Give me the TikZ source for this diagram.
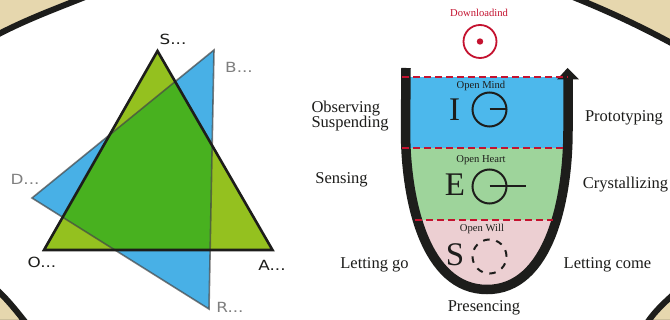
\documentclass[tikz,border=0pt]{standalone}
\usepackage{fontspec}
\setmainfont{Liberation Serif}
\newfontfamily\widefont{DejaVu Sans}
\definecolor{parch}{HTML}{E6D7AE}
\definecolor{inkb}{HTML}{1D1D1B}
\definecolor{tblue}{HTML}{48B0E6}
\definecolor{tgreen}{HTML}{94C11F}
\definecolor{mixg}{HTML}{48B11F}
\definecolor{ured}{HTML}{C4122F}
\definecolor{ublue}{HTML}{4CB8EC}
\definecolor{ugreen}{HTML}{9ED49B}
\definecolor{upink}{HTML}{ECCFD2}
\definecolor{tgrey}{HTML}{7F7F7F}
\tikzset{
 x=1pt,y=-1pt,
 frame/.style={draw=inkb,line width=6pt,fill=parch},
 vlab/.style={font=\widefont\fontsize{14}{14}\selectfont,text=inkb,inner sep=0pt,xscale=1.2},
 glab/.style={vlab,text=tgrey},
 side/.style={font=\fontsize{16.5}{16.5}\selectfont,text=inkb,inner sep=0pt,align=center},
 small/.style={font=\fontsize{10.6}{11}\selectfont,text=inkb,inner sep=0pt},
 big/.style={font=\fontsize{33}{33}\selectfont,text=inkb,inner sep=0pt},
 rdash/.style={draw=ured,line width=1.2pt,dash pattern=on 7pt off 4pt},
 ring/.style={circle,draw=inkb,line width=2pt,minimum size=34pt,inner sep=0pt},
}
\begin{document}
\begin{tikzpicture}
\useasboundingbox (0,0) rectangle (670,320);
\clip (0,0) rectangle (670,320);
\fill[white] (0,0) rectangle (670,320);
% corners of parchment
\draw[frame] (-5,36) .. controls (25,20) and (55,9) .. (85,-3) -- (-5,-3) -- cycle;
\draw[frame] (573,-3) .. controls (610,12) and (640,26) .. (675,45) -- (675,-3) -- cycle;
\draw[frame] (-5,288) .. controls (6,298) and (15,309) .. (26,323) -- (-5,323) -- cycle;
\draw[frame] (675,293) .. controls (665,302) and (655,311) .. (647,323) -- (675,323) -- cycle;
% left triangles
\coordinate (S) at (157.5,51);
\coordinate (O) at (44,250);
\coordinate (A) at (272.5,250);
\coordinate (B) at (214,50);
\coordinate (D) at (32,198);
\coordinate (R) at (209,309);
\fill[tblue] (B) -- (D) -- (R) -- cycle;
\fill[tgreen] (S) -- (O) -- (A) -- cycle;
\begin{scope}
\clip (B) -- (D) -- (R) -- cycle;
\fill[mixg] (S) -- (O) -- (A) -- cycle;
\end{scope}
\draw[draw=black!45!gray,opacity=.7,line width=1.6pt,line join=miter] (B) -- (D) -- (R) -- cycle;
\draw[inkb,line width=2.6pt,line join=miter] (S) -- (O) -- (A) -- cycle;
\node[vlab] (ls) at (173,39) {S...};
\node[glab] (lb) at (239,67) {B...};
\node[glab] (ld) at (25,179) {D...};
\node[vlab] (lo) at (42,262) {O...};
\node[vlab] (la) at (272,265) {A...};
\node[glab] (lr) at (230,307) {R...};
% U shape fills
\begin{scope}
\clip (406,68) -- (405.5,130) .. controls (405.5,200) and (425,289.5) .. (487,289.5) .. controls (549,289.5) and (568,200) .. (568,130) -- (568,68) -- cycle;
\fill[ublue] (380,77) rectangle (590,148);
\fill[ugreen] (380,148) rectangle (590,220);
\fill[upink] (380,220) rectangle (590,300);
\end{scope}
\draw[inkb,line width=9.5pt] (406,68) -- (405.5,130) .. controls (405.5,200) and (425,289.5) .. (487,289.5) .. controls (549,289.5) and (568,200) .. (568,130) -- (568,78);
\fill[inkb] (557,79.5) -- (567.5,68) -- (579,79.5) -- cycle;
\coordinate (d1a) at (402,77); \coordinate (d1b) at (568,77);
\coordinate (d2a) at (402,148); \coordinate (d2b) at (565,148);
\coordinate (d3a) at (415,220); \coordinate (d3b) at (553,220);
\draw[rdash] (d1a) -- (d1b);
\draw[rdash] (d2a) -- (d2b);
\draw[rdash] (d3a) -- (d3b);
% download
\node[circle,draw=ured,line width=1.8pt,minimum size=33pt,inner sep=0pt] (dl) at (480,41.5) {};
\fill[ured] (dl.center) circle (3.2pt);
\node[small,text=ured] (dlt) at (479,12.5) {Downloadind};
% rows
\node[small] (om) at (481,86) {Open Mind};
\node[big] (I) at (454.5,110) {I};
\node[ring] (c1) at (489.5,109.5) {};
\coordinate (c1e) at (506.5,109.5);
\draw[inkb,line width=2pt] (c1.center) -- (c1e);
\node[small] (oh) at (481,160) {Open Heart};
\node[big] (E) at (455,185) {E};
\node[ring] (c2) at (489.5,186.5) {};
\coordinate (c2e) at (526,186.5);
\draw[inkb,line width=2pt] (c2.center) -- (c2e);
\node[small] (ow) at (482,229) {Open Will};
\node[big] (SS) at (455,255) {S};
\node[ring,dash pattern=on 6.5pt off 6.8pt] (c3) at (489.5,256.5) {};
% side labels
\node[side,align=left] (obs) at (350,116.5) {Observing\\[-1.5pt]Suspending};
\node[side] (sen) at (341.5,179.5) {Sensing};
\node[side] (lg) at (374.5,264.5) {Letting go};
\node[side] (pres) at (484,308) {Presencing};
\node[side] (lc) at (607.5,264.5) {Letting come};
\node[side] (cry) at (625.5,184.5) {Crystallizing};
\node[side] (pro) at (624,117.5) {Prototyping};
\end{tikzpicture}
\end{document}
